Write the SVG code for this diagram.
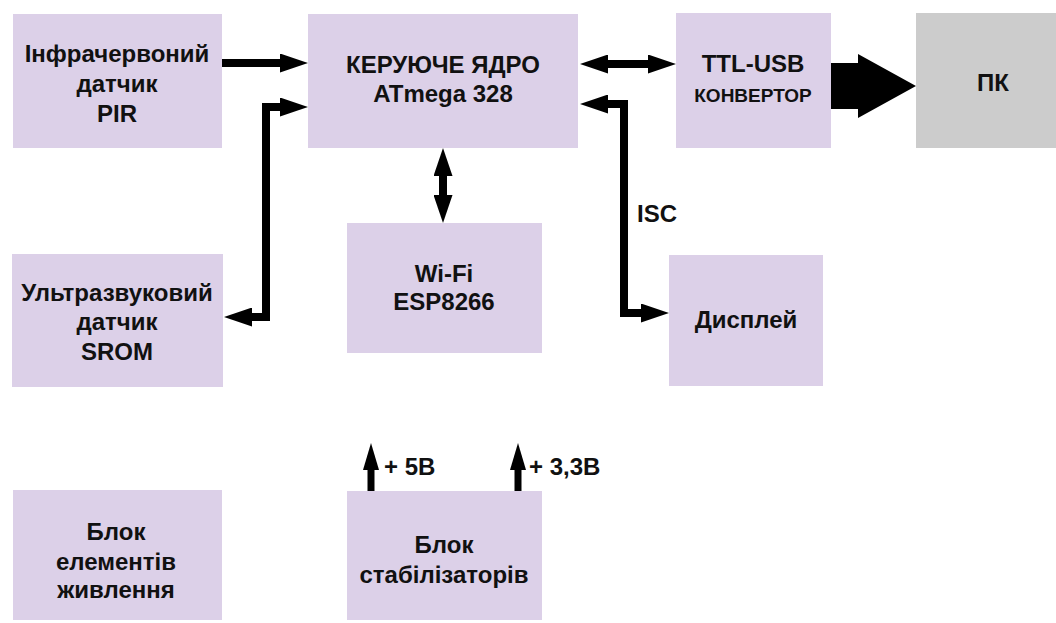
<svg xmlns="http://www.w3.org/2000/svg" width="1056" height="623" viewBox="0 0 1056 623">
<defs>
<style>
.box{fill:#dcd0e8;}
.pc{fill:#cccccc;}
.t{font-family:"Liberation Sans",Arial,sans-serif;font-weight:bold;font-size:24px;fill:#111;text-anchor:middle;}
.s{font-size:19px;}
.l{font-family:"Liberation Sans",Arial,sans-serif;font-weight:bold;font-size:24px;fill:#111;}
.c{fill:none;stroke:#000;stroke-width:8;stroke-linejoin:miter;}
.c2{fill:none;stroke:#000;stroke-width:7;}
</style>
<marker id="ah" markerUnits="userSpaceOnUse" viewBox="0 0 28 19" markerWidth="28" markerHeight="19" refX="0" refY="9.5" orient="auto-start-reverse">
<path d="M0,0 L28,9.5 L0,19 z" fill="#000"/>
</marker>
<marker id="ahs" markerUnits="userSpaceOnUse" viewBox="0 0 27 16" markerWidth="27" markerHeight="16" refX="0" refY="8" orient="auto">
<path d="M0,0 L27,8 L0,16 z" fill="#000"/>
</marker>
</defs>
<rect width="1056" height="623" fill="#ffffff"/>

<g id="pir">
<rect class="box" x="13" y="14" width="209" height="134"/>
<text class="t" x="117" y="62">Інфрачервоний</text>
<text class="t" x="117" y="92">датчик</text>
<text class="t" x="117" y="122">PIR</text>
</g>
<g id="core">
<rect class="box" x="308" y="14" width="270" height="134"/>
<text class="t" x="443" y="73">КЕРУЮЧЕ ЯДРО</text>
<text class="t" x="443" y="102">ATmega 328</text>
</g>
<g id="ttl">
<rect class="box" x="676" y="13" width="155" height="135"/>
<text class="t" x="753" y="72">TTL-USB</text>
<text class="t s" x="753" y="102">КОНВЕРТОР</text>
</g>
<g id="pc">
<rect class="pc" x="916" y="13" width="140" height="135"/>
<text class="t" x="993" y="91">ПК</text>
</g>
<g id="ultrasonic">
<rect class="box" x="12" y="254" width="211" height="133"/>
<text class="t" x="117" y="301">Ультразвуковий</text>
<text class="t" x="117" y="330">датчик</text>
<text class="t" x="117" y="360">SROM</text>
</g>
<g id="wifi">
<rect class="box" x="347" y="223" width="195" height="130"/>
<text class="t" x="444" y="282">Wi-Fi</text>
<text class="t" x="444" y="310">ESP8266</text>
</g>
<g id="display">
<rect class="box" x="669" y="255" width="154" height="131"/>
<text class="t" x="746" y="328">Дисплей</text>
</g>
<g id="power">
<rect class="box" x="13" y="490" width="209" height="130"/>
<text class="t" x="116" y="540">Блок</text>
<text class="t" x="116" y="570">елементів</text>
<text class="t" x="116" y="598">живлення</text>
</g>
<g id="stabilizers">
<rect class="box" x="347" y="491" width="195" height="129"/>
<text class="t" x="444" y="553">Блок</text>
<text class="t" x="444" y="583">стабілізаторів</text>
</g>

<g id="connectors">
<path class="c" d="M222,63 L280,63" marker-end="url(#ah)"/>
<path class="c" d="M252,317 L266,317 L266,107 L280,107" marker-start="url(#ah)" marker-end="url(#ah)"/>
<path class="c" d="M608,64 L648,64" marker-start="url(#ah)" marker-end="url(#ah)"/>
<path class="c" d="M443,176 L443,195" marker-start="url(#ah)" marker-end="url(#ah)"/>
<path class="c" d="M608,104 L624,104 L624,313 L641,313" marker-start="url(#ah)" marker-end="url(#ah)"/>
<polygon points="831,63 858,63 858,54 916,86 858,118 858,109 831,109" fill="#000"/>
<path class="c2" d="M371,491 L371,470" marker-end="url(#ahs)"/>
<path class="c2" d="M518,491 L518,470" marker-end="url(#ahs)"/>
<text class="l" x="637" y="222">ISC</text>
<text class="l" x="384" y="475">+ 5В</text>
<text class="l" x="529" y="475">+ 3,3В</text>
</g>
</svg>
